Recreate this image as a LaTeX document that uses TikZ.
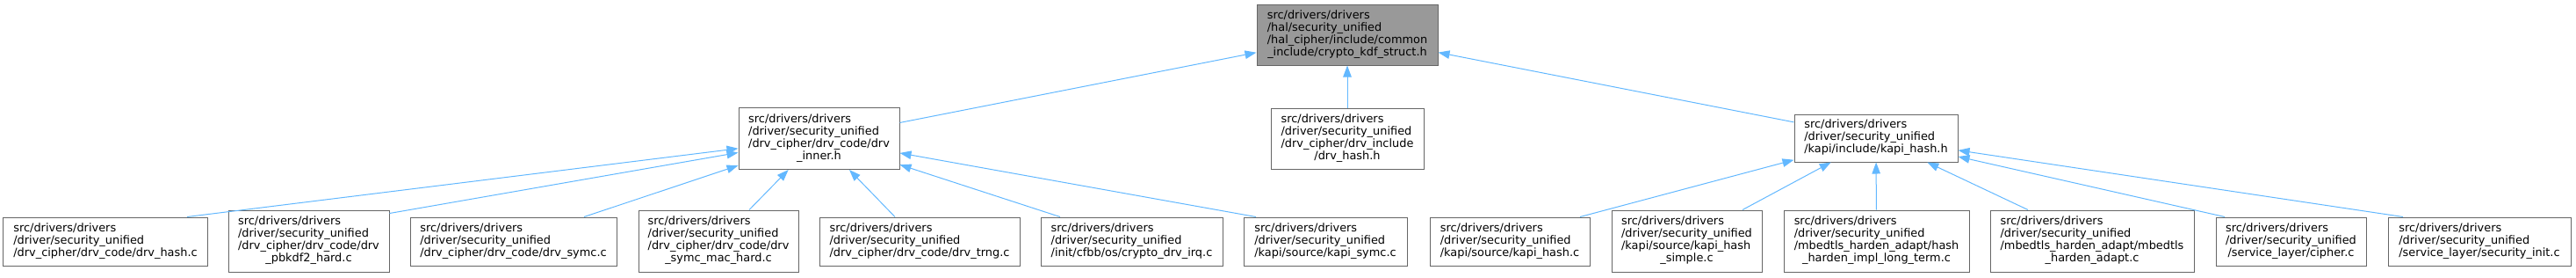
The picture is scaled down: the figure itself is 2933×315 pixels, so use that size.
\documentclass[tikz,border=0pt]{standalone}
\usepackage{fontspec}
\setmainfont{DejaVu Sans}
\usetikzlibrary{arrows.meta}
\definecolor{edgeblue}{HTML}{63B8FF}
\definecolor{boxline}{HTML}{666666}
\definecolor{rootfill}{HTML}{999999}
\definecolor{paper}{HTML}{FFFFFF}
% wrapped file path: left-aligned lines, last piece centred
\newcommand{\pathlabel}[2]{%
  \begin{tabular}{@{}l@{}}#1\\\multicolumn{1}{@{}c@{}}{#2}\end{tabular}}
\tikzset{
  file/.style={
    rectangle,
    draw=boxline,
    line width=1bp,
    fill=paper,
    inner sep=0pt,
    text=black,
    font=\fontsize{12.9bp}{14bp}\selectfont
  },
  rootfile/.style={
    file,
    fill=rootfill
  },
  threeline/.style={file, minimum height=55bp},
  fourline/.style={file, minimum height=70bp},
  include/.style={
    -{Triangle[length=13bp,width=9.5bp]},
    draw=edgeblue,
    line width=1bp
  }
}

\begin{document}
\begin{tikzpicture}[x=1bp,y=-1bp]

  \useasboundingbox (0, 0) rectangle (2933, 315);

  % ============================================================
  % Top: the included header
  % ============================================================
  \node[rootfile, minimum width=206bp, minimum height=69bp] (root)
       at (1534, 39.5)
       {\pathlabel{src/drivers/drivers\\/hal/security\_unified\\/hal\_cipher/include/common}{\_include/crypto\_kdf\_struct.h}};

  % ============================================================
  % Middle row: headers that include it
  % ============================================================
  \node[fourline, minimum width=183bp] (inner_h) at (932.5, 157.5)
       {\pathlabel{src/drivers/drivers\\/driver/security\_unified\\/drv\_cipher/drv\_code/drv}{\_inner.h}};
  \node[fourline, minimum width=174bp, minimum height=69bp] (hash_h)
       at (1534, 157.5)
       {\pathlabel{src/drivers/drivers\\/driver/security\_unified\\/drv\_cipher/drv\_include}{/drv\_hash.h}};
  \node[threeline, minimum width=186bp, minimum height=54bp] (kapi_h)
       at (2136, 157)
       {\pathlabel{src/drivers/drivers\\/driver/security\_unified}{/kapi/include/kapi\_hash.h}};

  % ============================================================
  % Bottom row: sources under drv_inner.h
  % ============================================================
  \node[threeline, minimum width=232bp] (leaf_hash_c) at (120, 274.5)
       {\pathlabel{src/drivers/drivers\\/driver/security\_unified}{/drv\_cipher/drv\_code/drv\_hash.c}};
  \node[fourline, minimum width=183bp] (leaf_pbkdf2) at (351.5, 274)
       {\pathlabel{src/drivers/drivers\\/driver/security\_unified\\/drv\_cipher/drv\_code/drv}{\_pbkdf2\_hard.c}};
  \node[threeline, minimum width=235bp] (leaf_symc_c) at (584.5, 274.5)
       {\pathlabel{src/drivers/drivers\\/driver/security\_unified}{/drv\_cipher/drv\_code/drv\_symc.c}};
  \node[fourline, minimum width=182bp] (leaf_mac_hard) at (818, 274)
       {\pathlabel{src/drivers/drivers\\/driver/security\_unified\\/drv\_cipher/drv\_code/drv}{\_symc\_mac\_hard.c}};
  \node[threeline, minimum width=228bp] (leaf_trng) at (1047, 274.5)
       {\pathlabel{src/drivers/drivers\\/driver/security\_unified}{/drv\_cipher/drv\_code/drv\_trng.c}};
  \node[threeline, minimum width=207bp] (leaf_irq) at (1288.5, 274.5)
       {\pathlabel{src/drivers/drivers\\/driver/security\_unified}{/init/cfbb/os/crypto\_drv\_irq.c}};
  \node[threeline, minimum width=186bp] (leaf_kapi_symc) at (1509, 274.5)
       {\pathlabel{src/drivers/drivers\\/driver/security\_unified}{/kapi/source/kapi\_symc.c}};

  % ============================================================
  % Bottom row: sources under kapi_hash.h
  % ============================================================
  \node[threeline, minimum width=182bp] (leaf_kapi_hash) at (1719, 274.5)
       {\pathlabel{src/drivers/drivers\\/driver/security\_unified}{/kapi/source/kapi\_hash.c}};
  \node[fourline, minimum width=171bp] (leaf_hash_simple) at (1920.5, 274)
       {\pathlabel{src/drivers/drivers\\/driver/security\_unified\\/kapi/source/kapi\_hash}{\_simple.c}};
  \node[fourline, minimum width=211bp] (leaf_long_term) at (2136.5, 274)
       {\pathlabel{src/drivers/drivers\\/driver/security\_unified\\/mbedtls\_harden\_adapt/hash}{\_harden\_impl\_long\_term.c}};
  \node[fourline, minimum width=232bp] (leaf_mbed_adapt) at (2382, 274)
       {\pathlabel{src/drivers/drivers\\/driver/security\_unified\\/mbedtls\_harden\_adapt/mbedtls}{\_harden\_adapt.c}};
  \node[threeline, minimum width=171bp] (leaf_cipher) at (2608.5, 274.5)
       {\pathlabel{src/drivers/drivers\\/driver/security\_unified}{/service\_layer/cipher.c}};
  \node[threeline, minimum width=208bp] (leaf_sec_init) at (2823, 274.5)
       {\pathlabel{src/drivers/drivers\\/driver/security\_unified}{/service\_layer/security\_init.c}};

  % ============================================================
  % Include edges (arrow points at the included file).
  % The lower ends leave each box's top edge off-centre, as dot
  % routes them, so they do not cut across the neighbouring boxes.
  % ============================================================
  \draw[include] (inner_h) -- (root);
  \draw[include] (hash_h) -- (root);
  \draw[include] (kapi_h) -- (root);

  \draw[include] ([xshift=93bp]leaf_hash_c.north) -- (inner_h);
  \draw[include] ([yshift=-4bp]leaf_pbkdf2.north east) -- (inner_h);
  \draw[include] ([xshift=80.5bp]leaf_symc_c.north) -- (inner_h);
  \draw[include] ([xshift=35bp]leaf_mac_hard.north) -- (inner_h);
  \draw[include] ([xshift=-28bp]leaf_trng.north) -- (inner_h);
  \draw[include] ([xshift=-81.5bp]leaf_irq.north) -- (inner_h);
  \draw[include] ([xshift=-79bp]leaf_kapi_symc.north) -- (inner_h);

  \draw[include] ([xshift=80bp]leaf_kapi_hash.north) -- (kapi_h);
  \draw[include] ([xshift=63.5bp]leaf_hash_simple.north) -- (kapi_h);
  \draw[include] (leaf_long_term) -- (kapi_h);
  \draw[include] ([xshift=-73bp]leaf_mbed_adapt.north) -- (kapi_h);
  \draw[include] ([xshift=-75.5bp]leaf_cipher.north) -- (kapi_h);
  \draw[include] ([xshift=-87bp]leaf_sec_init.north) -- (kapi_h);

\end{tikzpicture}
\end{document}
